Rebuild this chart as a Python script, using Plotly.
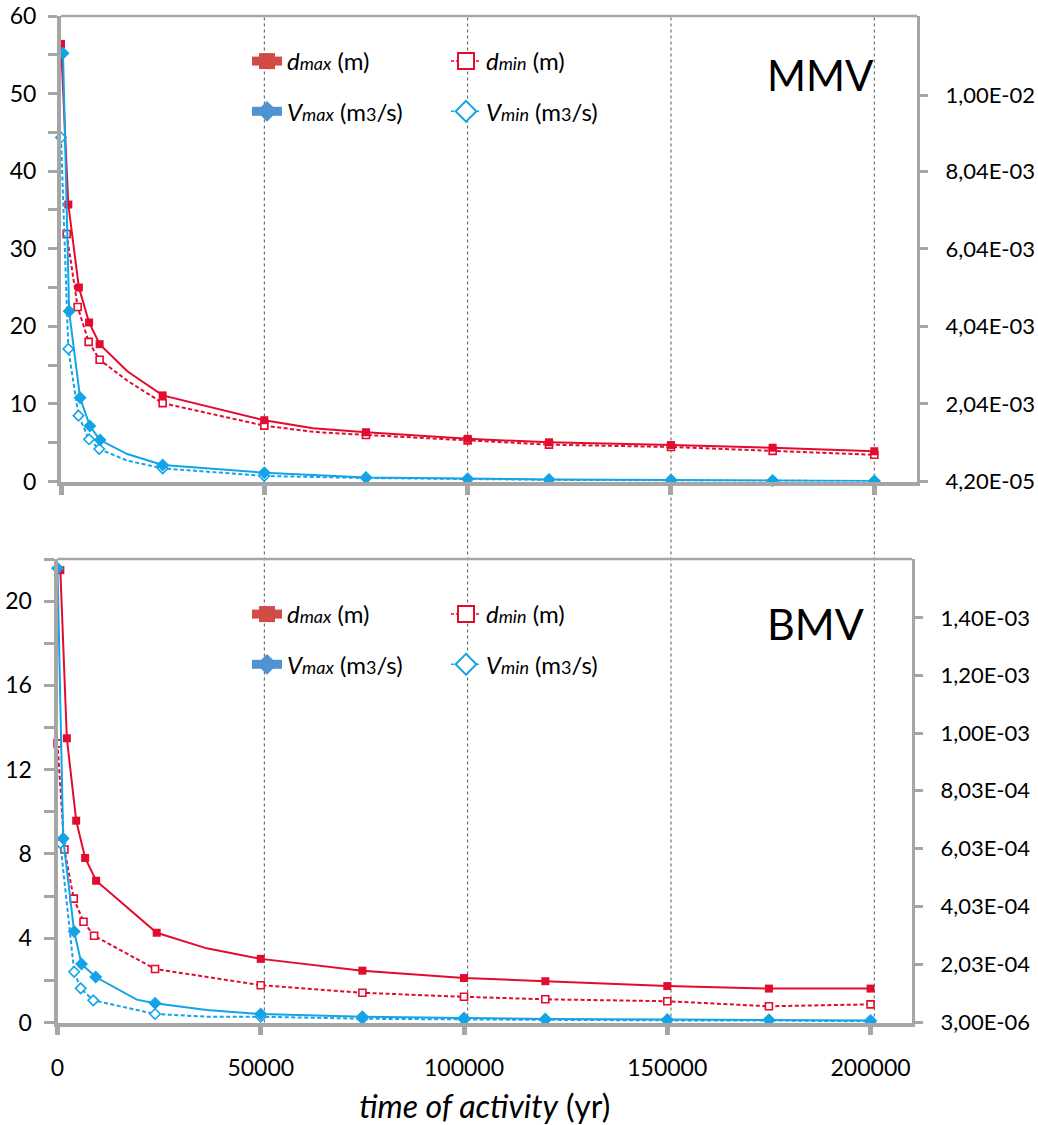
import plotly.graph_objects as go

# ---------------- data ----------------
# MMV panel (top): d (m) on left axis, V (m3/s) on right axis
mmv_dmax_x = [0, 1800, 4400, 6900, 9500, 16300, 25000, 50000, 62000, 75000, 100000, 120000, 150000, 175000, 200000]
mmv_dmax_y = [56.4, 35.7, 25.0, 20.5, 17.7, 14.2, 11.1, 7.9, 6.85, 6.35, 5.5, 5.05, 4.7, 4.35, 3.9]
mmv_dmin_x = [1400, 4100, 6800, 9500, 16300, 25000, 50000, 62000, 75000, 100000, 120000, 150000, 175000, 200000]
mmv_dmin_y = [31.9, 22.5, 18.0, 15.7, 13.0, 10.1, 7.2, 6.4, 6.0, 5.3, 4.75, 4.45, 3.95, 3.45]
mmv_vmax_x = [500, 2000, 4700, 7100, 9600, 16300, 25000, 50000, 75000, 100000, 120000, 150000, 175000, 200000]
mmv_vmax_y = [1.108e-2, 4.43e-3, 2.20e-3, 1.47e-3, 1.11e-3, 7.5e-4, 4.68e-4, 2.68e-4, 1.42e-4, 1.12e-4, 9.6e-5, 7.8e-5, 7.0e-5, 5.8e-5]
mmv_vmin_x = [0, 1800, 4300, 6900, 9400, 16300, 25000, 50000, 75000, 100000, 120000, 150000, 175000, 200000]
mmv_vmin_y = [8.91e-3, 3.46e-3, 1.74e-3, 1.13e-3, 8.8e-4, 5.8e-4, 3.82e-4, 1.84e-4, 1.32e-4, 1.02e-4, 8.6e-5, 7.0e-5, 6.2e-5, 5.2e-5]
mmv_unmarked_x = [16300, 62000]

# BMV panel (bottom)
bmv_dmax_x = [700, 2300, 4600, 6800, 9500, 24400, 36700, 50000, 75000, 100000, 120000, 150000, 175000, 200000]
bmv_dmax_y = [21.47, 13.49, 9.58, 7.81, 6.73, 4.26, 3.52, 3.02, 2.46, 2.11, 1.96, 1.73, 1.61, 1.61]
bmv_dmin_x = [0, 1700, 4000, 6400, 9000, 24000, 50000, 75000, 100000, 120000, 150000, 175000, 200000]
bmv_dmin_y = [13.25, 8.21, 5.88, 4.78, 4.12, 2.54, 1.77, 1.41, 1.22, 1.10, 1.01, 0.77, 0.86]
bmv_vmax_x = [0, 1400, 4100, 5900, 9400, 19500, 24000, 36700, 50000, 75000, 100000, 120000, 150000, 175000, 200000]
bmv_vmax_y = [1.571e-3, 6.38e-4, 3.17e-4, 2.05e-4, 1.60e-4, 8.2e-5, 6.96e-5, 4.6e-5, 3.24e-5, 2.3e-5, 1.88e-5, 1.52e-5, 1.3e-5, 1.23e-5, 1.02e-5]
bmv_vmin_x = [700, 4100, 5700, 8800, 24000, 36700, 50000, 75000, 100000, 120000, 150000, 175000, 200000]
bmv_vmin_y = [6.22e-4, 1.78e-4, 1.21e-4, 7.96e-5, 3.24e-5, 2.3e-5, 2.3e-5, 1.59e-5, 1.37e-5, 1.16e-5, 1.02e-5, 1.02e-5, 6.6e-6]
bmv_unmarked_x = [19500, 36700]

# ticks / labels
x_tickvals = [0, 50000, 100000, 150000, 200000]
x_ticktext = ['0', '50000', '100000', '150000', '200000']
grid_x = [50000, 100000, 150000, 200000]
mmv_right_tickvals = [4.2e-5, 2.04e-3, 4.04e-3, 6.04e-3, 8.04e-3, 1.0e-2]
mmv_right_ticktext = ['4,20E-05', '2,04E-03', '4,04E-03', '6,04E-03', '8,04E-03', '1,00E-02']
bmv_right_tickvals = [3e-6, 2.03e-4, 4.03e-4, 6.03e-4, 8.03e-4, 1.0e-3, 1.2e-3, 1.4e-3]
bmv_right_ticktext = ['3,00E-06', '2,03E-04', '4,03E-04', '6,03E-04', '8,03E-04', '1,00E-03', '1,20E-03', '1,40E-03']

SMALL = "<span style='font-size:18px'>{}</span>"
lbl_dmax = "<i>d</i>" + SMALL.format("<i>max</i>") + " (m)"
lbl_dmin = "<i>d</i>" + SMALL.format("<i>min</i>") + " (m)"
lbl_vmax = "<i>V</i>" + SMALL.format("<i>max</i>") + " (m" + SMALL.format("3") + "/s)"
lbl_vmin = "<i>V</i>" + SMALL.format("<i>min</i>") + " (m" + SMALL.format("3") + "/s)"

# ---------------- styling ----------------
W, H = 1038, 1125
def px_x(p):
    return p / W
def px_y(p):
    return 1 - p / H

RED = '#E30B2E'
CYAN = '#12A4E6'
LEG_RED = '#D24B47'
LEG_BLUE = '#4F93D0'
AXIS = '#A6A6A6'
FONT = 'Lato'

fig = go.Figure()


def add_series(x, y, xa, ya, color, dash, symbol, size, filled, unmarked):
    fig.add_trace(go.Scatter(
        x=x, y=y, xaxis=xa, yaxis=ya, mode='lines+markers',
        line=dict(color=color, width=2, dash=dash),
        marker=dict(symbol=symbol, size=size,
                    opacity=[0 if xi in unmarked else 1 for xi in x],
                    color=color if filled else 'white',
                    line=dict(color=color, width=0 if filled else 1.6)),
        showlegend=False, cliponaxis=False, hoverinfo='skip'))


def add_legend_item(name, color, dash, width, symbol, filled, xa, ya, legend, group):
    fig.add_trace(go.Scatter(
        x=[None], y=[None], xaxis=xa, yaxis=ya, mode='lines+markers', name=name,
        line=dict(color=color, width=width, dash=dash),
        marker=dict(symbol=symbol, size=16, color=color if filled else 'white',
                    line=dict(color=color, width=0 if filled else 2)),
        legend=legend, legendgroup=group, showlegend=True))


DASH = '4px,2.5px'
# top panel
add_series(mmv_dmin_x, mmv_dmin_y, 'x', 'y', RED, DASH, 'square', 7, False, mmv_unmarked_x)
add_series(mmv_dmax_x, mmv_dmax_y, 'x', 'y', RED, 'solid', 'square', 8, True, mmv_unmarked_x)
add_series(mmv_vmin_x, mmv_vmin_y, 'x', 'y2', CYAN, DASH, 'diamond', 8, False, mmv_unmarked_x)
add_series(mmv_vmax_x, mmv_vmax_y, 'x', 'y2', CYAN, 'solid', 'diamond', 10, True, mmv_unmarked_x)
# bottom panel
add_series(bmv_dmin_x, bmv_dmin_y, 'x2', 'y3', RED, DASH, 'square', 7, False, bmv_unmarked_x)
add_series(bmv_dmax_x, bmv_dmax_y, 'x2', 'y3', RED, 'solid', 'square', 8, True, bmv_unmarked_x)
add_series(bmv_vmin_x, bmv_vmin_y, 'x2', 'y4', CYAN, DASH, 'diamond', 8, False, bmv_unmarked_x)
add_series(bmv_vmax_x, bmv_vmax_y, 'x2', 'y4', CYAN, 'solid', 'diamond', 10, True, bmv_unmarked_x)

# legends
for (xa, ya, la, lb, gp) in [('x', 'y', 'legend', 'legend2', 't'), ('x2', 'y3', 'legend3', 'legend4', 'b')]:
    add_legend_item(lbl_dmax, LEG_RED, 'solid', 9, 'square', True, xa, ya, la, gp + '1')
    add_legend_item(lbl_vmax, LEG_BLUE, 'solid', 9, 'diamond', True, xa, ya, la, gp + '2')
    add_legend_item(lbl_dmin, RED, '3px,2px', 1.5, 'square', False, xa, ya, lb, gp + '3')
    add_legend_item(lbl_vmin, CYAN, '3px,2px', 1.5, 'diamond', False, xa, ya, lb, gp + '4')

tickfont = dict(family=FONT, size=23, color='black')
rtickfont = dict(family=FONT, size=22, color='black')

top_dom_x = [px_x(61), px_x(917)]
top_dom_y = [px_y(481.5), px_y(16)]
bot_dom_x = [px_x(57.5), px_x(912)]
bot_dom_y = [px_y(1022.5), px_y(559)]

common_axis = dict(showgrid=False, zeroline=False, showline=True, linecolor=AXIS,
                   ticks='outside', tickcolor=AXIS, automargin=False)

leg_common = dict(font=dict(family=FONT, size=24, color='black'), bgcolor='rgba(0,0,0,0)',
                  xanchor='left', yanchor='top', tracegroupgap=16, itemwidth=30, borderwidth=0)

fig.update_layout(
    width=W, height=H, autosize=False,
    margin=dict(l=0, r=0, t=0, b=0, autoexpand=False),
    paper_bgcolor='white', plot_bgcolor='white',
    font=dict(family=FONT, color='black'),
    hovermode=False,
    xaxis=dict(domain=top_dom_x, anchor='y', range=[0, 210500], tickvals=x_tickvals,
               showticklabels=False, ticklen=9, tickwidth=5, linewidth=4, tickfont=tickfont,
               **common_axis),
    yaxis=dict(domain=top_dom_y, anchor='x', range=[0, 60], dtick=10, ticklen=9, tickwidth=3,
               linewidth=4, ticklabelstandoff=7, tickfont=tickfont,
               minor=dict(dtick=5, ticks='outside', ticklen=9, tickwidth=3, tickcolor=AXIS),
               **common_axis),
    yaxis2=dict(overlaying='y', anchor='x', side='right', range=[4.2e-5, 1.2042e-2],
                tickvals=mmv_right_tickvals, ticktext=mmv_right_ticktext, ticklen=8, tickwidth=3,
                linewidth=3, ticklabelstandoff=13, tickfont=rtickfont, **common_axis),
    xaxis2=dict(domain=bot_dom_x, anchor='y3', range=[0, 210200], tickvals=x_tickvals,
                ticktext=x_ticktext, ticklen=8, tickwidth=5, linewidth=4, ticklabelstandoff=14,
                tickfont=tickfont,
                title=dict(text='<i>time of activity</i> (yr)', font=dict(family=FONT, size=32),
                           standoff=18),
                **common_axis),
    yaxis3=dict(domain=bot_dom_y, anchor='x2', range=[0, 22], dtick=4, ticklen=10, tickwidth=3,
                linewidth=4, ticklabelstandoff=7, tickfont=tickfont,
                minor=dict(dtick=2, ticks='outside', ticklen=10, tickwidth=3, tickcolor=AXIS),
                **common_axis),
    yaxis4=dict(overlaying='y3', anchor='x2', side='right', range=[3e-6, 1.603e-3],
                tickvals=bmv_right_tickvals, ticktext=bmv_right_ticktext, ticklen=8, tickwidth=3,
                linewidth=3, ticklabelstandoff=13, tickfont=rtickfont, **common_axis),
    legend=dict(x=px_x(247), y=px_y(39), **leg_common),
    legend2=dict(x=px_x(446), y=px_y(39), **leg_common),
    legend3=dict(x=px_x(247), y=px_y(592), **leg_common),
    legend4=dict(x=px_x(446), y=px_y(592), **leg_common),
)

# frame top lines
fig.add_shape(type='line', xref='x domain', yref='y domain', x0=0, x1=1, y0=1, y1=1,
              line=dict(color=AXIS, width=2.5))
fig.add_shape(type='line', xref='x2 domain', yref='y3 domain', x0=0, x1=1, y0=1, y1=1,
              line=dict(color=AXIS, width=2.5))

# dotted vertical gridlines spanning both panels
for gx in grid_x:
    fig.add_shape(type='line', xref='x', yref='paper', x0=gx, x1=gx,
                  y0=bot_dom_y[0], y1=top_dom_y[1], layer='below',
                  line=dict(color='#555555', width=1, dash='dot'))

fig.add_annotation(text='MMV', xref='paper', yref='paper', x=px_x(876), y=px_y(75),
                   xanchor='right', yanchor='middle', showarrow=False,
                   font=dict(family=FONT, size=42, color='black'))
fig.add_annotation(text='BMV', xref='paper', yref='paper', x=px_x(866), y=px_y(623),
                   xanchor='right', yanchor='middle', showarrow=False,
                   font=dict(family=FONT, size=43, color='black'))

fig.write_html('out.html')
